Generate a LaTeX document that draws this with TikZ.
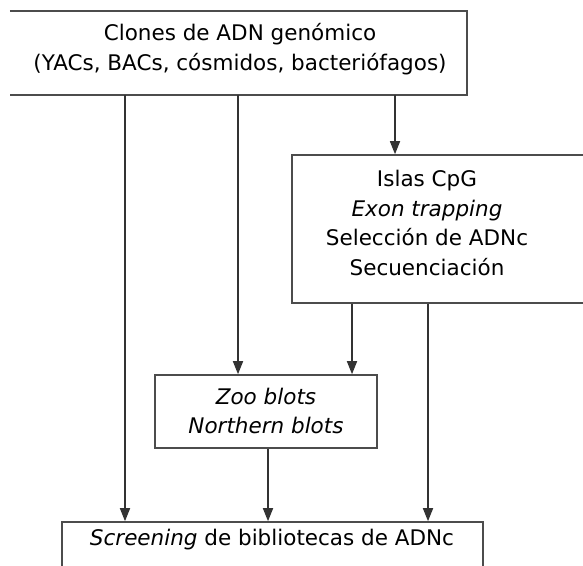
\documentclass[tikz,border=0pt]{standalone}
\usepackage{fontspec}
\setmainfont{DejaVu Sans}
\usetikzlibrary{arrows.meta}
\begin{document}
\begin{tikzpicture}[x=1pt,y=-1pt,
  boxline/.style={draw=black!70,line width=1.6pt},
  txt/.style={font=\fontsize{21.5}{29.5}\selectfont,align=center,inner sep=0pt,text=black},
  arr/.style={draw=black!80,line width=1.6pt,-{Triangle[length=13pt,width=10pt]}}]
\useasboundingbox (0,0) rectangle (583,565);
\begin{scope}
\clip (0,0) rectangle (583,565);
% top box (no left side visible)
\node[minimum width=457pt,minimum height=84pt,inner sep=0pt] (top) at (238.5,53) {};
\draw[boxline] (top.north west) -- (top.north east) -- (top.south east) -- (top.south west);
\node[txt] (toptxt) at (240,49) {Clones de ADN genómico\\(YACs, BACs, cósmidos, bacteriófagos)};
% CpG box
\node[boxline,minimum width=310pt,minimum height=148pt,inner sep=0pt] (cpg) at (447,229) {};
\node[txt] (cpgtxt) at (427,223) {Islas CpG\\\textit{Exon trapping}\\Selección de ADNc\\Secuenciación};
% Zoo box
\node[boxline,minimum width=222pt,minimum height=73pt,inner sep=0pt] (zoo) at (266,411.5) {};
\node[txt] (zootxt) at (266,411) {\textit{Zoo blots}\\\textit{Northern blots}};
% screening box
\node[boxline,minimum width=421pt,minimum height=70pt,inner sep=0pt] (scr) at (272.5,557) {};
\node[txt] (scrtxt) at (272,540) {\textit{Screening} de bibliotecas de ADNc};
\end{scope}
\coordinate (xa) at (125,0);
\coordinate (xb) at (238,0);
\coordinate (xc) at (395,0);
\coordinate (xd) at (352,0);
\coordinate (xe) at (428,0);
\coordinate (xf) at (268,0);
\draw[arr] (top.south -| xa) -- (scr.north -| xa);
\draw[arr] (top.south -| xb) -- (zoo.north -| xb);
\draw[arr] (top.south -| xc) -- (cpg.north -| xc);
\draw[arr] (cpg.south -| xd) -- (zoo.north -| xd);
\draw[arr] (cpg.south -| xe) -- (scr.north -| xe);
\draw[arr] (zoo.south -| xf) -- (scr.north -| xf);
\end{tikzpicture}
\end{document}
